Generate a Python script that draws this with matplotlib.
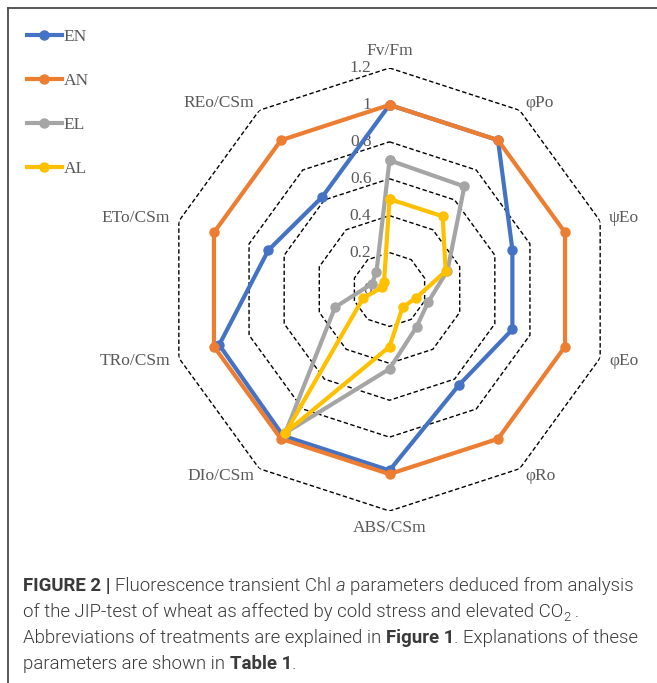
import numpy as np
import matplotlib
matplotlib.use("Agg")
import matplotlib.pyplot as plt
from matplotlib.lines import Line2D
from matplotlib.transforms import ScaledTranslation

# JIP-test parameters (clockwise from the top)
categories = ["Fv/Fm", "φPo", "ψEo", "φEo", "φRo",
              "ABS/CSm", "DIo/CSm", "TRo/CSm", "ETo/CSm", "REo/CSm"]

# Relative values per treatment
EN = [1.00, 1.00, 0.70, 0.70, 0.64, 0.98, 0.98, 0.97, 0.69, 0.62]
AN = [1.00, 1.00, 1.00, 1.00, 1.00, 1.00, 1.00, 1.00, 1.00, 1.00]
EL = [0.70, 0.69, 0.33, 0.22, 0.25, 0.43, 0.96, 0.31, 0.10, 0.12]
AL = [0.49, 0.49, 0.32, 0.15, 0.12, 0.31, 0.96, 0.15, 0.04, 0.05]

series_names = ["EN", "AN", "EL", "AL"]
series_colors = ["#4472C4", "#ED7D31", "#A5A5A5", "#FFC000"]

r_ticks = [0, 0.2, 0.4, 0.6, 0.8, 1.0, 1.2]
r_tick_labels = ["0", "0.2", "0.4", "0.6", "0.8", "1", "1.2"]

W, H, DPI = 657, 683, 100
fig = plt.figure(figsize=(W / DPI, H / DPI), dpi=DPI)

# polar axes centred at (389.5, 289.5) px, radius 221.5 px for r = 1.2
cx, cy, R = 389.5, 289.5, 221.5
ax = fig.add_axes([(cx - R) / W, (H - cy - R) / H, 2 * R / W, 2 * R / H],
                  projection="polar")
ax.set_theta_offset(np.pi / 2)
ax.set_theta_direction(-1)
ax.set_ylim(0, 1.2)
ax.grid(False)
ax.spines["polar"].set_visible(False)
ax.set_xticks([])
ax.set_yticks([])
ax.patch.set_alpha(0)

n = len(categories)
theta = np.arange(n) * 2 * np.pi / n
theta_closed = np.append(theta, theta[0])

# dashed polygon gridlines
for rv in r_ticks[1:]:
    ax.plot(theta_closed, [rv] * (n + 1), color="black", lw=1.0,
            linestyle=(0, (3.2, 1.8)), zorder=1)

text_gray = "#595959"
serif = ["Liberation Serif", "DejaVu Serif"]

# series
handles = []
for name, vals, col in zip(series_names, [EN, AN, EL, AL], series_colors):
    v = np.append(vals, vals[0])
    (ln,) = ax.plot(theta_closed, v, color=col, lw=3.0, marker="o",
                    markersize=6.5, label=name, zorder=3, clip_on=False)
    handles.append(ln)

# radial value labels along the top axis
shift = ScaledTranslation(-18 / DPI, 0, fig.dpi_scale_trans)
for rv, lab in zip(r_ticks, r_tick_labels):
    ax.text(0, rv, lab, transform=ax.transData + shift, ha="right",
            va="center", fontsize=12.5, color=text_gray, family=serif,
            zorder=2)

# category labels
r_lab = 1.25
for t, lab in zip(theta, categories):
    s, c = np.sin(t), np.cos(t)  # s: horizontal, c: vertical (clockwise from top)
    ha = "left" if s > 0.01 else ("right" if s < -0.01 else "center")
    va = "bottom" if c > 0.99 else ("top" if c < -0.99 else "center")
    ax.text(t, r_lab, lab, ha=ha, va=va, fontsize=12.5, color=text_gray,
            family=serif)

# legend
fig.legend(handles=handles, loc="upper left",
           bbox_to_anchor=(27 / W, 1 - 29 / H), frameon=False,
           prop={"family": serif, "size": 12.5}, labelcolor=text_gray,
           handlelength=2.0, handletextpad=0.12, labelspacing=1.61,
           borderaxespad=0, borderpad=0)

# frame lines
frame_col = "#4a4a4a"
fig.add_artist(Line2D([8 / W, 1], [1 - 8 / H, 1 - 8 / H], color=frame_col,
                      lw=1.3, transform=fig.transFigure))
fig.add_artist(Line2D([8 / W, 8 / W], [1 - 8 / H, 0], color=frame_col,
                      lw=1.3, transform=fig.transFigure))

# caption, built from runs of differently styled text
cap_font = ["Roboto", "Liberation Sans", "DejaVu Sans"]
cap_size = 13.4
cap_col = "#3a3a3a"
renderer = fig.canvas.get_renderer()


def width_px(s, **kw):
    t = fig.text(0, 0, s, fontsize=kw.get("size", cap_size), family=cap_font,
                 weight=kw.get("weight", 300), style=kw.get("style", "normal"))
    w = t.get_window_extent(renderer).width
    t.remove()
    return w


space = width_px("a a") - width_px("aa")

lines = [
    [("FIGURE 2 |", dict(weight="bold")), " ",
     ("Fluorescence transient Chl", {}), " ", ("a", dict(style="italic")), " ",
     ("parameters deduced from analysis", {})],
    [("of the JIP-test of wheat as affected by cold stress and elevated CO", {}),
     ("2", dict(size=cap_size * 0.72, dy=4)), ("\u2009.", {})],
    [("Abbreviations of treatments are explained in", {}), " ",
     ("Figure 1", dict(weight="bold")), (". Explanations of these", {})],
    [("parameters are shown in", {}), " ", ("Table 1", dict(weight="bold")),
     (".", {})],
]
baselines = [591, 617, 643, 669]
x0 = 23
for runs, yb in zip(lines, baselines):
    x = x0
    for run in runs:
        if run == " ":
            x += space
            continue
        s, kw = run
        t = fig.text(x / W, (H - yb - kw.get("dy", 0)) / H, s,
                     fontsize=kw.get("size", cap_size), family=cap_font,
                     weight=kw.get("weight", 300),
                     style=kw.get("style", "normal"), color=cap_col,
                     va="baseline", ha="left")
        x += t.get_window_extent(renderer).width

fig.savefig("out.png", dpi=DPI)
